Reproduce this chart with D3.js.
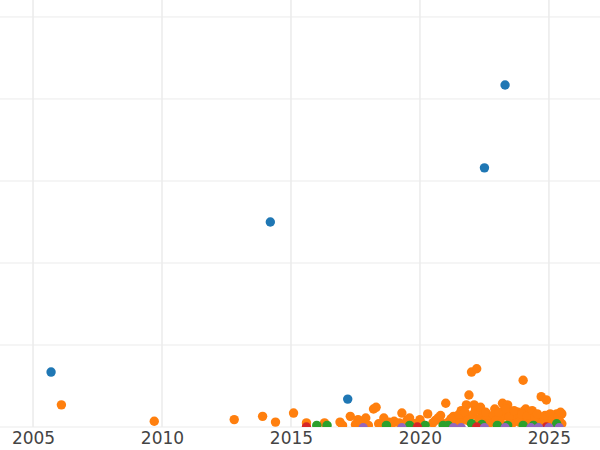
<!DOCTYPE html><html><head><script src="https://cdn.jsdelivr.net/npm/d3@7"></script>
<style>body{margin:0;background:#fff}</style></head><body><svg id="c" width="600" height="450"></svg>
<script>
const xTicks=[2005,2010,2015,2020,2025];
const yTicks=[0,1,2,3,4,5];
const blue=[[2005.7,.67],[2014.2,2.5],[2017.2,.34],[2022.5,3.16],[2023.3,4.17]];
const orange=[[2006.1,.27],[2009.7,.07],[2012.8,.09],[2013.9,.13],[2014.4,.06],[2015.1,.17],[2015.6,.05],[2016.3,.05],[2016.9,.06],[2017.3,.13],[2017.6,.09],[2017.9,.11],[2018.2,.22],[2018.3,.24],[2018.6,.11],[2019.0,.07],[2019.3,.17],[2019.6,.11],[2020.0,.09],[2020.3,.16],[2020.7,.11],[2021.0,.29],[2021.3,.13],[2021.6,.2],[2021.8,.27],[2021.9,.39],[2022.0,.67],[2022.2,.71],[2022.1,.27],[2022.4,.18],[2022.7,.11],[2022.9,.22],[2023.2,.29],[2023.4,.27],[2023.6,.16],[2023.8,.18],[2024.0,.57],[2024.1,.22],[2024.4,.16],[2024.7,.37],[2024.9,.33],[2025.1,.13],[2025.3,.16],[2025.5,.16],
[2017.0,.02],[2017.5,.03],[2018.0,.02],[2018.4,.04],[2018.9,.03],[2019.2,.05],[2019.8,.04],[2020.1,.03],[2020.5,.05],[2020.9,.04],[2021.1,.06],[2021.4,.08],[2021.7,.1],[2021.9,.12],[2022.3,.1],[2022.5,.08],[2022.8,.06],[2023.0,.12],[2023.1,.09],[2023.3,.14],[2023.5,.07],[2023.7,.1],[2023.9,.12],[2024.2,.08],[2024.3,.1],[2024.5,.06],[2024.6,.12],[2024.8,.08],[2025.0,.1],[2025.2,.06],[2025.4,.08],[2025.5,.04],[2021.5,.15],[2022.6,.14],[2024.05,.2],[2023.25,.2],
[2021.2,.1],[2021.55,.05],[2021.75,.18],[2021.85,.08],[2022.05,.15],[2022.15,.2],[2022.25,.06],[2022.35,.24],[2022.55,.18],[2022.65,.04],[2022.85,.15],[2022.95,.08],[2023.05,.18],[2023.15,.04],[2023.35,.22],[2023.45,.12],[2023.55,.03],[2023.65,.2],[2023.85,.06],[2023.95,.16],[2024.15,.13],[2024.25,.04],[2024.35,.2],[2024.45,.12],[2024.55,.16],[2024.75,.05],[2024.85,.14],[2025.05,.16],[2025.15,.09],[2025.35,.12],[2025.45,.18],[2020.6,.08],[2020.8,.14],[2019.5,.08],[2018.8,.06],[2017.7,.05]];
const green=[[2016.0,.02],[2016.4,.02],[2018.7,.02],[2019.6,.02],[2020.2,.02],[2020.9,.02],[2021.1,.02],[2022.0,.04],[2022.4,.03],[2023.0,.02],[2023.4,.02],[2024.0,.02],[2024.4,.02],[2025.3,.04]];
const red=[[2015.6,0],[2019.9,0],[2022.2,0],[2024.9,0]];
const purple=[[2017.8,-.01],[2019.3,-.01],[2021.3,-.01],[2021.6,-.01],[2022.5,-.01],[2023.3,-.01],[2024.3,-.01],[2024.6,-.01],[2025.0,-.01],[2025.4,-.01]];
const series=[[blue,"#1f77b4"],[orange,"#ff7f0e"],[green,"#2ca02c"],[red,"#d62728"],[purple,"#9467bd"]];
const svg=d3.select("#c");
const x=d3.scaleLinear().domain([2003.72,2026.98]).range([0,600]);
const y=d3.scaleLinear().domain([0,5.207]).range([427,0]);
svg.append("defs").append("clipPath").attr("id","cp").append("rect").attr("x",0).attr("y",0).attr("width",600).attr("height",427);
const g=svg.append("g");
g.selectAll(".h").data(yTicks).enter().append("line").attr("x1",0).attr("x2",600).attr("y1",d=>y(d)).attr("y2",d=>y(d)).attr("stroke","#ebebeb").attr("stroke-width",1);
g.selectAll(".v").data(xTicks).enter().append("line").attr("y1",0).attr("y2",427).attr("x1",d=>x(d)).attr("x2",d=>x(d)).attr("stroke","#ebebeb").attr("stroke-width",1.5);
const pg=svg.append("g").attr("clip-path","url(#cp)");
series.forEach(([d,c])=>pg.selectAll(null).data(d).enter().append("circle").attr("cx",p=>x(p[0])).attr("cy",p=>y(p[1])).attr("r",4.7).attr("fill",c));
const ax=svg.append("g").attr("transform","translate(0,427)").call(d3.axisBottom(x).tickValues(xTicks).tickFormat(d3.format("d")).tickSize(0).tickPadding(5));
ax.select(".domain").remove();
ax.selectAll("text").attr("font-family","DejaVu Sans").attr("font-size",17).attr("fill","#444");
</script></body></html>
